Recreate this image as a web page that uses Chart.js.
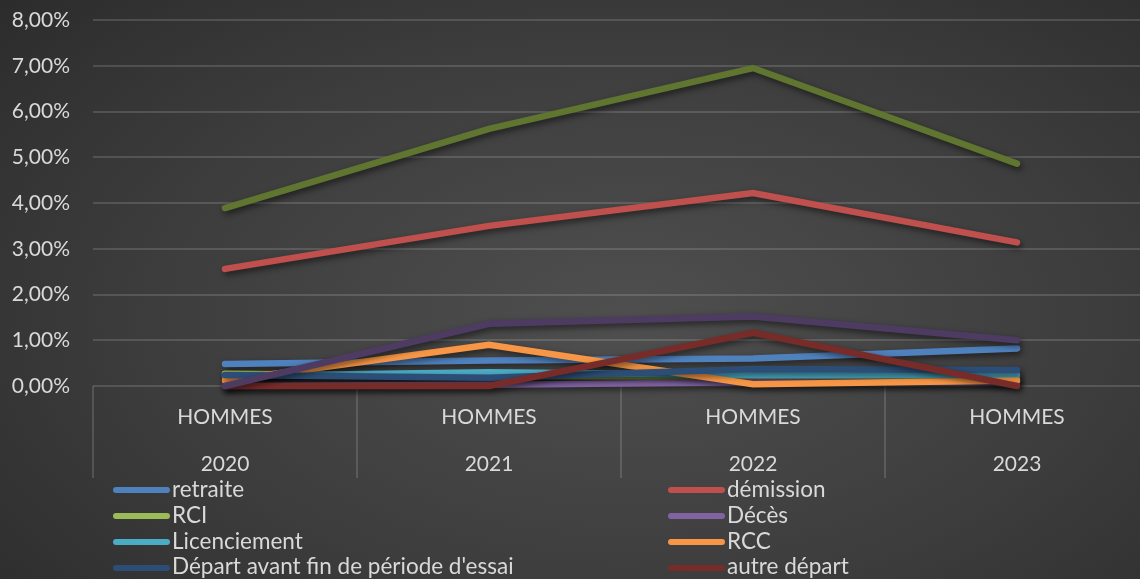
<!DOCTYPE html>
<html>
<head>
<meta charset="utf-8">
<script src="https://cdn.jsdelivr.net/npm/chart.js@4/dist/chart.umd.min.js"></script>
<style>
	html, body { margin: 0; padding: 0; }
	body {
		width: 1140px; height: 579px; overflow: hidden; position: relative;
		background: radial-gradient(ellipse 75% 85% at 55% 55%, #4f4f4f 0%, #3d3d3d 55%, #2b2b2b 100%);
		font-family: Lato, "Open Sans", sans-serif;
	}
	#graph { position: absolute; left: 0; top: 0; width: 1160px; height: 480px; }
	#legende { position: absolute; left: 0; top: 476px; width: 1140px; }
	.item { position: absolute; height: 26px; line-height: 26px; font-size: 22.5px; color: #d9d9d9; white-space: nowrap; }
	.trait { display: inline-block; width: 57px; height: 6px; border-radius: 3px; vertical-align: middle; margin-right: 2px; position: relative; top: -1px; }
</style>
</head>
<body>
<div id="graph"><canvas id="chart" width="1160" height="480"></canvas></div>
<div id="legende"></div>
<script>
var annees = ['2020', '2021', '2022', '2023'];
var genre = 'HOMMES';

// taux en %
var retraite = [0.48, 0.56, 0.60, 0.82];
var demission = [2.56, 3.50, 4.22, 3.14];
var rci = [0.27, 0.22, 0.20, 0.18];
var deces = [0.00, 0.03, 0.08, 0.08];
var licenciement = [0.22, 0.30, 0.24, 0.24];
var rcc = [0.12, 0.90, 0.04, 0.12];
var departEssai = [0.24, 0.18, 0.37, 0.35];
var autreDepart = [0.00, 0.00, 1.16, 0.00];
// séries sans légende
var total = [3.89, 5.62, 6.95, 4.86];
var serie10 = [0.00, 1.36, 1.52, 1.00];

var yTicks = [0, 1, 2, 3, 4, 5, 6, 7, 8];

var series = [
	{ nom: 'retraite', data: retraite, couleur: '#4F81BD', legende: true },
	{ nom: 'démission', data: demission, couleur: '#C0504D', legende: true },
	{ nom: 'RCI', data: rci, couleur: '#9BBB59', legende: true },
	{ nom: 'Décès', data: deces, couleur: '#8064A2', legende: true },
	{ nom: 'Licenciement', data: licenciement, couleur: '#4BACC6', legende: true },
	{ nom: 'RCC', data: rcc, couleur: '#F79646', legende: true },
	{ nom: "Départ avant fin de période d'essai", data: departEssai, couleur: '#2C4D75', legende: true },
	{ nom: 'autre départ', data: autreDepart, couleur: '#772C2A', legende: true },
	{ nom: 'total', data: total, couleur: '#5F7530', legende: false },
	{ nom: 'série 10', data: serie10, couleur: '#4D3B62', legende: false }
];

var labels = [];
for (var i = 0; i < annees.length; i++) {
	labels.push([genre, '', annees[i]]);
}

var datasets = [];
for (var i = 0; i < series.length; i++) {
	datasets.push({
		label: series[i].nom,
		data: series[i].data,
		borderColor: series[i].couleur,
		backgroundColor: series[i].couleur,
		borderWidth: 6.5,
		borderCapStyle: 'round',
		borderJoinStyle: 'miter',
		pointRadius: 0,
		tension: 0,
		clip: false,
		order: series.length - i // comme Excel : la dernière série par-dessus
	});
}

var ombre = {
	id: 'ombre',
	beforeDatasetDraw: function(chart) {
		var ctx = chart.ctx;
		ctx.save();
		ctx.shadowColor = 'rgba(0,0,0,0.55)';
		ctx.shadowBlur = 6;
		ctx.shadowOffsetX = 2;
		ctx.shadowOffsetY = 3;
	},
	afterDatasetDraw: function(chart) {
		chart.ctx.restore();
	}
};

var gris = 'rgba(255,255,255,0.14)';
var texte = '#d9d9d9';

var ctx = document.getElementById('chart').getContext('2d');
var chart = new Chart(ctx, {
	type: 'line',
	data: { labels: labels, datasets: datasets },
	plugins: [ombre],
	options: {
		responsive: false,
		animation: false,
		layout: { padding: { top: 20, right: 11, left: 0, bottom: 0 } },
		plugins: {
			legend: { display: false },
			tooltip: { enabled: false }
		},
		scales: {
			x: {
				offset: true,
				grid: { offset: true, drawOnChartArea: false, drawTicks: true, tickLength: 92, color: gris, lineWidth: 2 },
				border: { display: false },
				ticks: {
					color: texte,
					font: { family: 'Lato', size: 21, lineHeight: 1.12 },
					padding: -73,
					maxRotation: 0,
					autoSkip: false
				},
				afterFit: function(scale) { scale.height = 94; }
			},
			y: {
				min: 0,
				max: 8,
				afterBuildTicks: function(scale) {
					scale.ticks = yTicks.map(function(v) { return { value: v }; });
				},
				// tick invisible pour écarter les libellés sans padding (qui décale le haut)
				grid: { color: gris, lineWidth: 2, drawTicks: true, tickLength: 23, tickColor: 'rgba(0,0,0,0)' },
				border: { display: false },
				ticks: {
					color: texte,
					font: { family: 'Lato', size: 21 },
					padding: 0,
					callback: function(v) { return v.toFixed(2).replace('.', ',') + '%'; }
				},
				afterFit: function(scale) { scale.width = 93; }
			}
		}
	}
});

// légende sur deux colonnes
var leg = document.getElementById('legende');
var cols = [113, 668];
var n = 0;
for (var i = 0; i < series.length; i++) {
	if (!series[i].legende) continue;
	var div = document.createElement('div');
	div.className = 'item';
	div.style.left = cols[n % 2] + 'px';
	div.style.top = (Math.floor(n / 2) * 25.8) + 'px';
	div.innerHTML = '<span class="trait" style="background:' + series[i].couleur + '"></span>' + series[i].nom;
	leg.appendChild(div);
	n++;
}
</script>
</body>
</html>
